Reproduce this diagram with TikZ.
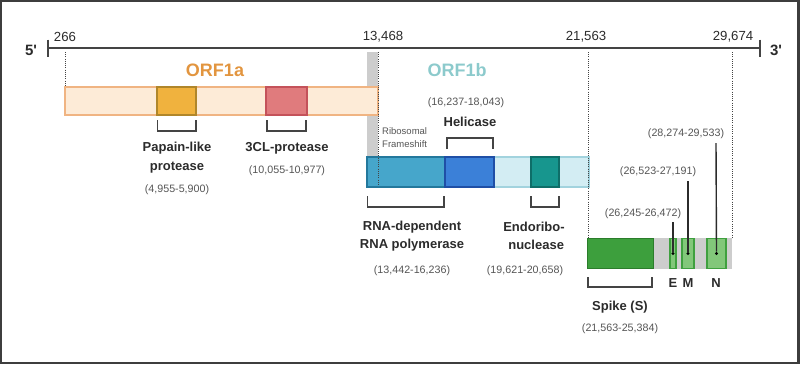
\documentclass[tikz,border=0pt]{standalone}
\usepackage{fontspec}
\setmainfont{Liberation Sans}
\definecolor{txt}{HTML}{2B2B2B}
\definecolor{numc}{HTML}{555555}
\definecolor{axisc}{HTML}{444444}
\definecolor{orfa}{HTML}{E2953F}
\definecolor{orfb}{HTML}{8CCACC}
\definecolor{afill}{HTML}{FDEBD7}
\definecolor{aline}{HTML}{F0B482}
\definecolor{papf}{HTML}{F0B23E}
\definecolor{papl}{HTML}{B0862A}
\definecolor{clf}{HTML}{E07B7D}
\definecolor{cll}{HTML}{C4525A}
\definecolor{bfill}{HTML}{D3EDF3}
\definecolor{bline}{HTML}{A2D3DE}
\definecolor{rdf}{HTML}{46A6CB}
\definecolor{rdl}{HTML}{23789C}
\definecolor{hef}{HTML}{3B80D8}
\definecolor{hel}{HTML}{1F4FA6}
\definecolor{enf}{HTML}{17968E}
\definecolor{enl}{HTML}{0E6E68}
\definecolor{grayband}{HTML}{CDCDCD}
\definecolor{spf}{HTML}{3D9F3D}
\definecolor{spl}{HTML}{2B7D2B}
\definecolor{smf}{HTML}{82C77A}
\definecolor{sml}{HTML}{3FA03F}
\begin{document}
\begin{tikzpicture}[x=1pt,y=-1pt,
  lbl/.style={font=\bfseries\fontsize{13}{18.5}\selectfont, text=txt, align=center, inner sep=0},
  num/.style={font=\fontsize{10.7}{12}\selectfont, text=numc, inner sep=0},
  posn/.style={font=\fontsize{13.2}{15}\selectfont, text=txt, inner sep=0},
  small/.style={font=\fontsize{9.5}{13}\selectfont, text=numc, align=left, inner sep=0},
  orf/.style={font=\bfseries\fontsize{18}{20}\selectfont, inner sep=0},
  bracketu/.style={draw=axisc, line width=1.3pt},
  dotl/.style={draw=axisc, line width=1pt, dash pattern=on 1pt off 1.2pt},
  leader/.style={draw=txt, line width=1.4pt},
  box/.style={line width=1.8pt, anchor=north west, inner sep=0, outer sep=0},
  dotmark/.style={circle, fill=black, inner sep=0, minimum size=3.4pt}
]
\useasboundingbox (0,0) rectangle (800,365);
\draw[color=axisc!90!black, line width=2.4pt] (1.2,1) rectangle (798.5,363);

% axis
\coordinate (L) at (48,48);
\coordinate (R) at (760,48);
\draw[axisc, line width=2pt] (L) -- (R);
\draw[axisc, line width=2.2pt] (48,39.5) -- (48,56.5);
\draw[axisc, line width=2.2pt] (760,39.5) -- (760,56.5);
\node[font=\bfseries\fontsize{15}{17}\selectfont, text=txt, inner sep=0] (five) at (31,50) {5\textquotesingle};
\node[font=\bfseries\fontsize{15}{17}\selectfont, text=txt, inner sep=0] (three) at (776,50) {3\textquotesingle};
\node[posn] (p1) at (65,37) {266};
\node[posn] (p2) at (383,37) {13,468};
\node[posn] (p3) at (586,37) {21,563};
\node[posn] (p4) at (733,37) {29,674};

% gray frameshift band
\fill[grayband] (367,52) rectangle (378,157);

% ORF1a
\node[orf, text=orfa] (orf1a) at (215,70) {ORF1a};
\node[box, draw=aline, fill=afill, minimum width=313pt, minimum height=28pt] (bara) at (65,87) {};
\node[box, draw=papl, fill=papf, minimum width=39pt, minimum height=28pt] (pap) at (157,87) {};
\node[box, draw=cll, fill=clf, minimum width=41pt, minimum height=28pt] (cl) at (266,87) {};
\draw[bracketu] (157.5,120) |- (196,131) -- (196,120);
\draw[bracketu] (267,120) |- (306,131) -- (306,120);
\node[lbl] (papl) at (177,157.5) {Papain-like\\protease};
\node[num] (papn) at (177,190) {(4,955-5,900)};
\node[lbl] (cllbl) at (287,148) {3CL-protease};
\node[num] (cln) at (287,171) {(10,055-10,977)};

% ORF1b
\node[orf, text=orfb] (orf1b) at (457,70) {ORF1b};
\node[box, draw=bline, fill=bfill, minimum width=222pt, minimum height=30pt] (barb) at (367,157) {};
\node[box, draw=rdl, fill=rdf, minimum width=78pt, minimum height=30pt] (rdrp) at (367,157) {};
\node[box, draw=hel, fill=hef, minimum width=49pt, minimum height=30pt] (hel) at (445,157) {};
\node[box, draw=enl, fill=enf, minimum width=28pt, minimum height=30pt] (endo) at (531,157) {};
\node[small, anchor=west] (rib) at (382,137.5) {Ribosomal\\Frameshift};
\node[num] (heln) at (466,103) {(16,237-18,043)};
\node[lbl] (hell) at (470,122) {Helicase};
\draw[bracketu] (447,149) |- (493,138) -- (493,149);
\draw[bracketu] (367.5,196) |- (444,207) -- (444,196);
\draw[bracketu] (531,196) |- (559,207) -- (559,196);
\node[lbl] (rdl) at (412,236) {RNA-dependent\\RNA polymerase};
\node[num] (rdn) at (412,271) {(13,442-16,236)};
\node[lbl] (enlbl) at (534,236) {Endoribo-\\\phantom{-}nuclease};
\node[num] (enn) at (525,271) {(19,621-20,658)};

% structural
\node[box, draw=none, fill=grayband, minimum width=145pt, minimum height=31pt] (sbar) at (587,238) {};
\node[box, draw=spl, fill=spf, minimum width=66pt, minimum height=30pt] (spike) at (587.5,238.5) {};
\node[box, draw=sml, fill=smf, minimum width=6pt, minimum height=30pt, line width=1.5pt] (ebox) at (670,238.5) {};
\node[box, draw=sml, fill=smf, minimum width=12pt, minimum height=30pt, line width=1.5pt] (mbox) at (682,238.5) {};
\node[box, draw=sml, fill=smf, minimum width=19pt, minimum height=30pt, line width=1.5pt] (nbox) at (707,238.5) {};
\node[dotmark] (ed) at (ebox.center) {};
\node[dotmark] (md) at (mbox.center) {};
\node[dotmark] (nd) at (nbox.center) {};
\coordinate (et) at (673,222);
\coordinate (mt) at (688,181);
\coordinate (nt) at (716,143);
\draw[leader] (ed) -- (et);
\draw[leader] (md) -- (mt);
\draw[leader] (nd) -- (nt);
\node[num] (en2) at (643,214) {(26,245-26,472)};
\node[num] (mn) at (658,172) {(26,523-27,191)};
\node[num] (nn) at (686,134) {(28,274-29,533)};
\node[lbl] (el) at (673,283) {E};
\node[lbl] (ml) at (688,283) {M};
\node[lbl] (nl) at (716,283) {N};
\draw[bracketu] (588,277) |- (652,287) -- (652,277);
\node[lbl] (spl) at (620,307) {Spike (S)};
\node[num] (spn) at (620,329) {(21,563-25,384)};

% dotted guides
\draw[dotl] (65,52) -- (65,87);
\draw[dotl] (378,52) -- (378,186);
\draw[dotl] (588,52) -- (588,238);
\draw[dotl] (732,52) -- (732,238);
\end{tikzpicture}
\end{document}
